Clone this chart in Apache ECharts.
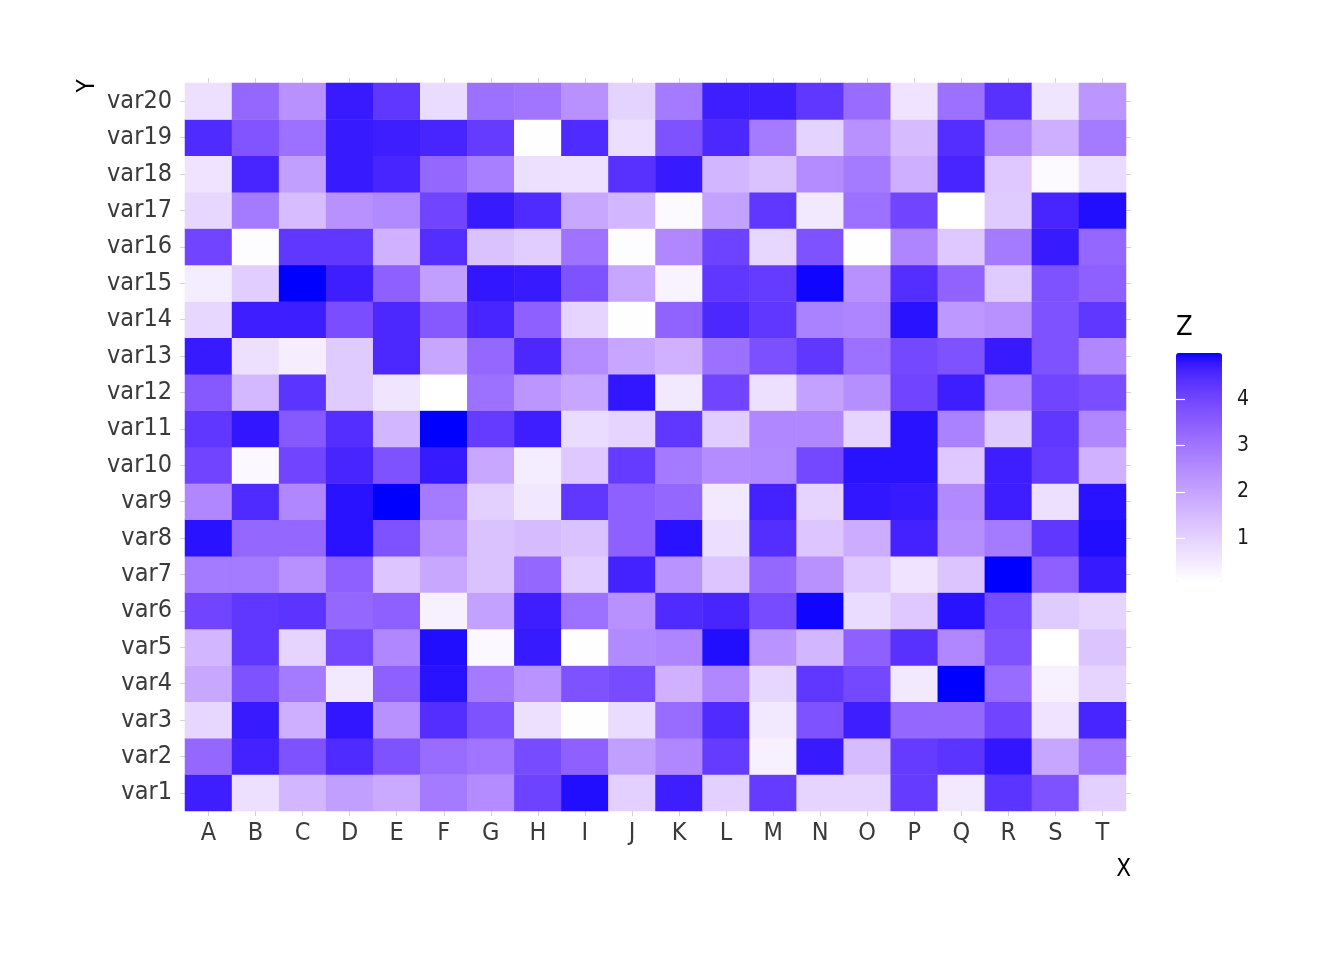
<!DOCTYPE html>
<html>
<head>
<meta charset="utf-8">
<script src="https://cdn.jsdelivr.net/npm/echarts@6/dist/echarts.min.js"></script>
<style>
html,body{margin:0;padding:0;background:#fff;}
#chart{width:1344px;height:960px;}
</style>
</head>
<body>
<div id="chart"></div>
<script>
// ---- data ----
const xCategories = ['A','B','C','D','E','F','G','H','I','J','K','L','M','N','O','P','Q','R','S','T'];
const yCategories = ['var1','var2','var3','var4','var5','var6','var7','var8','var9','var10',
                     'var11','var12','var13','var14','var15','var16','var17','var18','var19','var20'];
const legendTicks = [1, 2, 3, 4];

const var1  = [4.7,0.7,1.6,2.1,1.85,2.9,2.5,4.05,4.9,1.05, 4.7,1.05,4.2,0.95,0.95,4.2,0.5,4.35,3.75,1.05];
const var2  = [3.3,4.65,3.75,4.5,3.75,3.2,3.0,3.9,3.45,2.1, 2.6,4.2,0.35,4.75,1.5,4.2,4.35,4.8,1.95,3.0];
const var3  = [0.9,4.75,1.75,4.8,2.4,4.45,3.75,0.7,0.08,0.8, 3.2,4.5,0.5,3.75,4.7,3.3,3.3,4.0,0.65,4.6];
const var4  = [1.9,3.75,2.9,0.5,3.45,4.85,2.9,2.35,3.75,3.9, 1.7,2.6,0.9,4.3,3.95,0.5,5.0,3.2,0.35,0.95];
const var5  = [1.6,4.3,0.95,3.95,2.6,4.9,0.2,4.75,0.08,2.55, 2.65,4.9,2.35,1.6,3.45,4.4,2.6,3.75,0.05,1.3];
const var6  = [4.0,4.3,4.35,3.3,3.45,0.35,2.05,4.7,3.1,2.4, 4.5,4.6,3.9,4.95,0.8,1.2,4.85,3.9,1.15,0.95];
const var7  = [2.9,2.9,2.4,3.45,1.25,1.9,1.35,3.3,1.1,4.65, 2.35,1.25,3.3,2.4,1.2,0.65,1.3,5.0,3.45,4.75];
const var8  = [4.85,3.3,3.3,4.85,3.75,2.4,1.35,1.5,1.35,3.45, 4.85,0.75,4.45,1.25,1.8,4.65,2.45,2.9,4.3,4.9];
const var9  = [2.6,4.5,2.6,4.85,5.0,2.9,1.05,0.55,4.3,3.45, 3.3,0.5,4.65,0.95,4.8,4.75,2.55,4.7,0.7,4.85];
const var10 = [4.0,0.2,4.0,4.6,3.75,4.75,1.9,0.45,1.2,4.2, 2.9,2.5,2.55,3.95,4.85,4.85,1.2,4.7,4.2,1.7];
const var11 = [4.3,4.8,3.6,4.45,1.6,5.0,4.2,4.7,0.8,0.95, 4.3,1.1,2.6,2.6,0.95,4.85,2.75,1.15,4.3,2.6];
const var12 = [3.6,1.55,4.35,1.15,0.6,0.05,3.1,2.3,1.95,4.8, 0.5,4.0,0.7,2.05,2.45,4.0,4.7,2.6,4.0,3.85];
const var13 = [4.75,0.7,0.4,1.15,4.55,1.95,3.3,4.55,2.5,1.95, 1.7,3.1,3.8,4.3,3.1,3.95,3.75,4.75,3.75,2.6];
const var14 = [0.9,4.7,4.7,3.85,4.55,3.6,4.6,3.45,0.95,0.08, 3.4,4.55,4.3,2.75,2.65,4.85,2.25,2.4,3.75,4.3];
const var15 = [0.45,1.1,5.0,4.7,3.45,2.1,4.8,4.75,3.75,1.95, 0.3,4.3,4.2,4.95,2.4,4.45,3.4,1.15,3.75,3.45];
const var16 = [4.0,0.12,4.3,4.3,1.7,4.45,1.35,1.1,3.05,0.12, 2.6,4.05,0.9,3.75,0.1,2.65,1.2,2.9,4.75,3.3];
const var17 = [0.9,2.9,1.45,2.4,2.55,4.0,4.75,4.5,1.9,1.6, 0.15,2.05,4.3,0.5,3.1,4.0,0.05,1.15,4.6,4.9];
const var18 = [0.65,4.6,2.1,4.75,4.6,3.3,2.8,0.7,0.68,4.4, 4.75,1.6,1.35,2.5,2.9,1.75,4.6,1.2,0.15,0.8];
const var19 = [4.5,3.7,3.1,4.75,4.7,4.6,4.2,0.1,4.5,0.75, 3.75,4.55,2.9,1.0,2.4,1.5,4.45,2.6,1.75,2.9];
const var20 = [0.7,3.3,2.4,4.75,4.3,0.8,3.1,3.0,2.4,1.0, 2.9,4.7,4.7,4.3,3.2,0.65,3.1,4.4,0.6,2.3];

const zRows = [var1,var2,var3,var4,var5,var6,var7,var8,var9,var10,
               var11,var12,var13,var14,var15,var16,var17,var18,var19,var20];

// ---- build heatmap data ----
const heatData = [];
zRows.forEach((row, yi) => row.forEach((v, xi) => heatData.push([xi, yi, v])));
const allVals = heatData.map(d => d[2]);
const vmin = Math.min(...allVals);
const vmax = Math.max(...allVals);

// ---- white -> blue gradient interpolated in CIELAB (like ggplot2) ----
function lab2hex(L, a, b) {
  const e = 216 / 24389, k = 24389 / 27;
  const fy = (L + 16) / 116, fx = fy + a / 500, fz = fy - b / 200;
  const fi = f => { const f3 = f * f * f; return f3 > e ? f3 : (116 * f - 16) / k; };
  const X = 0.95047 * fi(fx);
  const Y = L > k * e ? Math.pow(fy, 3) : L / k;
  const Z = 1.08883 * fi(fz);
  let r = 3.2404542 * X - 1.5371385 * Y - 0.4985314 * Z;
  let g = -0.9692660 * X + 1.8760108 * Y + 0.0415560 * Z;
  let bb = 0.0556434 * X - 0.2040259 * Y + 1.0572252 * Z;
  const gam = c => {
    c = Math.max(0, Math.min(1, c));
    c = c <= 0.0031308 ? 12.92 * c : 1.055 * Math.pow(c, 1 / 2.4) - 0.055;
    return Math.round(Math.max(0, Math.min(1, c)) * 255);
  };
  const h = n => n.toString(16).padStart(2, '0');
  return '#' + h(gam(r)) + h(gam(g)) + h(gam(bb));
}
const lowLab = [100, 0, 0];
const highLab = [32.297, 79.188, -107.86];
const rampColors = [];
const NSTOP = 48;
for (let i = 0; i <= NSTOP; i++) {
  const t = i / NSTOP;
  rampColors.push(lab2hex(
    lowLab[0] + (highLab[0] - lowLab[0]) * t,
    lowLab[1] + (highLab[1] - lowLab[1]) * t,
    lowLab[2] + (highLab[2] - lowLab[2]) * t));
}

const FONT = "'Liberation Sans Narrow', 'Arial Narrow', 'DejaVu Sans Condensed', 'Liberation Sans', sans-serif";
const LABEL_COLOR = '#3a3a3a';
const TICK_COLOR = '#d4d4d4';

const chart = echarts.init(document.getElementById('chart'), null, { renderer: 'canvas' });

const option = {
  backgroundColor: '#ffffff',
  animation: false,
  textStyle: { fontFamily: FONT },
  grid: [
    { left: 185, top: 83, width: 941, height: 728, containLabel: false },
    { left: 1176, top: 353, width: 46, height: 229, containLabel: false }
  ],
  xAxis: [
    {
      type: 'category', gridIndex: 0, data: xCategories, position: 'bottom',
      axisLine: { show: false },
      axisTick: { show: true, alignWithLabel: true, length: 5, lineStyle: { color: TICK_COLOR, width: 1 } },
      axisLabel: { color: LABEL_COLOR, fontSize: 25, fontFamily: FONT, margin: 10, interval: 0 },
      splitLine: { show: false }
    },
    {
      type: 'category', gridIndex: 0, data: xCategories, position: 'top',
      axisLine: { show: false },
      axisTick: { show: true, alignWithLabel: true, length: 5, lineStyle: { color: TICK_COLOR, width: 1 } },
      axisLabel: { show: false },
      splitLine: { show: false }
    },
    {
      type: 'value', gridIndex: 1, show: false, min: 0, max: 1
    }
  ],
  yAxis: [
    {
      type: 'category', gridIndex: 0, data: yCategories, position: 'left',
      axisLine: { show: false },
      axisTick: { show: true, alignWithLabel: true, length: 5, interval: 0, lineStyle: { color: TICK_COLOR, width: 1 } },
      axisLabel: { color: LABEL_COLOR, fontSize: 25, fontFamily: FONT, margin: 13, interval: 0,
                   padding: [4, 0, 0, 0] },
      splitLine: { show: false }
    },
    {
      type: 'category', gridIndex: 0, data: yCategories, position: 'right',
      axisLine: { show: false },
      axisTick: { show: true, alignWithLabel: true, length: 5, interval: 0, lineStyle: { color: TICK_COLOR, width: 1 } },
      axisLabel: { show: false },
      splitLine: { show: false }
    },
    {
      type: 'value', gridIndex: 1, min: vmin, max: vmax, position: 'right', z: 10,
      axisLine: { show: false },
      splitLine: { show: false },
      axisTick: { show: true, inside: true, length: 9, customValues: legendTicks,
                  lineStyle: { color: '#ffffff', width: 1.2 } },
      axisLabel: { show: true, customValues: legendTicks, color: '#1a1a1a', fontSize: 21,
                   fontFamily: FONT, margin: 15 }
    },
    {
      type: 'value', gridIndex: 1, min: vmin, max: vmax, position: 'left', z: 10,
      axisLine: { show: false },
      splitLine: { show: false },
      axisTick: { show: true, inside: true, length: 9, customValues: legendTicks,
                  lineStyle: { color: '#ffffff', width: 1.2 } },
      axisLabel: { show: false }
    }
  ],
  visualMap: {
    type: 'continuous',
    min: vmin, max: vmax,
    seriesIndex: 0,
    dimension: 2,
    calculable: false,
    hoverLink: false,
    orient: 'vertical',
    left: 1176, top: 353,
    itemWidth: 46, itemHeight: 229,
    padding: 0,
    text: null,
    showLabel: false,
    inRange: { color: rampColors }
  },
  graphic: [
    { type: 'text', left: 1176, top: 314,
      style: { text: 'Z', fontSize: 27, fontFamily: FONT, fill: '#000' } },
    { type: 'text', right: 1344 - 1131, top: 858,
      style: { text: 'X', fontSize: 24, fontFamily: FONT, fill: '#000' } },
    { type: 'text', x: 88, y: 86, rotation: Math.PI / 2,
      style: { text: 'Y', fontSize: 24, fontFamily: FONT, fill: '#000', align: 'center', verticalAlign: 'middle' } }
  ],
  series: [
    {
      type: 'heatmap',
      xAxisIndex: 0, yAxisIndex: 0,
      data: heatData,
      itemStyle: { borderWidth: 0 },
      emphasis: { disabled: true },
      progressive: 0
    }
  ]
};
chart.setOption(option);
</script>
</body>
</html>
